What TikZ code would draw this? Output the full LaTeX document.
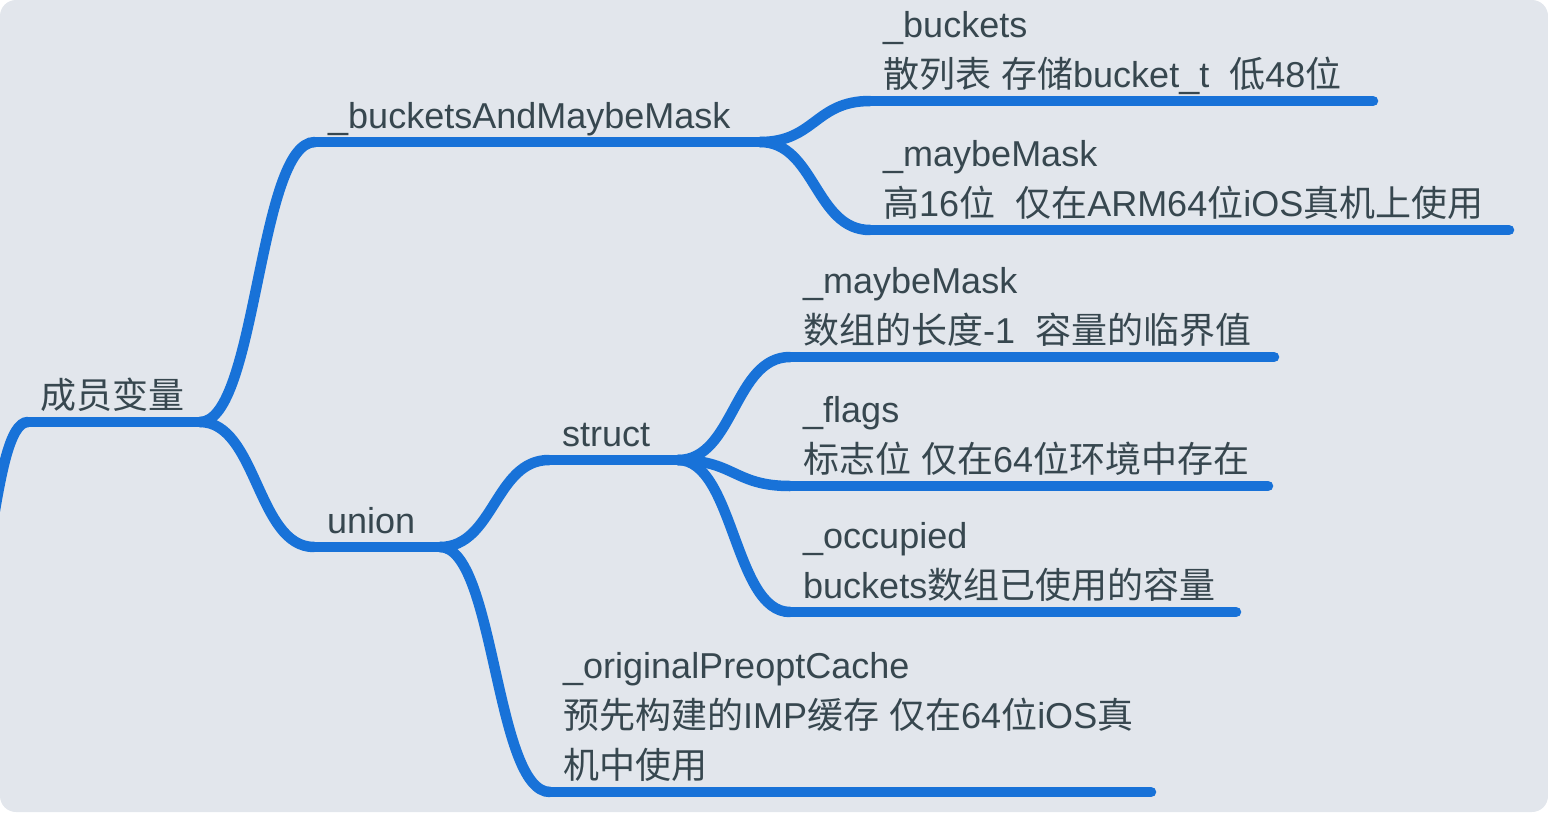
\documentclass[tikz,border=0pt]{standalone}
\usepackage{fontspec}
\setmainfont{Liberation Sans}
\newfontfamily\zh{Noto Sans CJK SC}
\usetikzlibrary{calc}
\definecolor{bg}{HTML}{E2E6EC}
\definecolor{mblue}{HTML}{1872D8}
\definecolor{ink}{HTML}{37474F}
\tikzset{
  topic/.style={anchor=base west, inner sep=0pt, align=left, text=ink,
    font=\fontsize{36}{50}\selectfont},
  branch/.style={draw=mblue, line width=10.5pt, line cap=round},
}
\begin{document}
\begin{tikzpicture}[x=1pt, y=-1pt]
        \useasboundingbox (0,0) rectangle (1548,812);
        \fill[bg, rounded corners=16pt] (0,0) rectangle (1548,812);
        \coordinate (in) at (-45,640);
        \coordinate (r-s) at (28,422);
        \coordinate (r-e) at (200,422);
        \coordinate (bm-s) at (315,142);
        \coordinate (bm-e) at (760,142);
        \coordinate (bk-s) at (870,101);
        \coordinate (bk-e) at (1373,101);
        \coordinate (m1-s) at (870,230);
        \coordinate (m1-e) at (1509,230);
        \coordinate (un-s) at (314,547);
        \coordinate (un-e) at (440,547);
        \coordinate (st-s) at (549,460);
        \coordinate (st-e) at (678,460);
        \coordinate (m2-s) at (790,357);
        \coordinate (m2-e) at (1274,357);
        \coordinate (fl-s) at (790,486);
        \coordinate (fl-e) at (1268,486);
        \coordinate (oc-s) at (790,612);
        \coordinate (oc-e) at (1236,612);
        \coordinate (op-s) at (550,792);
        \coordinate (op-e) at (1151,792);
        \foreach \t in {r,bm,bk,m1,un,st,m2,fl,oc,op}
          \draw[branch] (\t-s) -- (\t-e);
        \draw[branch] (in) .. controls +(37,0) and +(-37,0) .. (r-s);
        \draw[branch] (r-e) .. controls +(57,0) and +(-57,0) .. (bm-s);
        \draw[branch] (r-e) .. controls +(57,0) and +(-57,0) .. (un-s);
        \draw[branch] (bm-e) .. controls +(55,0) and +(-55,0) .. (bk-s);
        \draw[branch] (bm-e) .. controls +(55,0) and +(-55,0) .. (m1-s);
        \draw[branch] (un-e) .. controls +(54,0) and +(-54,0) .. (st-s);
        \draw[branch] (un-e) .. controls +(55,0) and +(-55,0) .. (op-s);
        \draw[branch] (st-e) .. controls +(56,0) and +(-56,0) .. (m2-s);
        \draw[branch] (st-e) .. controls +(56,0) and +(-56,0) .. (fl-s);
        \draw[branch] (st-e) .. controls +(56,0) and +(-56,0) .. (oc-s);
        % texts sit on their branch, base = last line
        \node[topic] (root) at ($(r-s)+(12,-14)$) {{\zh 成员变量}};
        \node[topic] (bm) at ($(bm-s)+(13,-14)$) {\_bucketsAndMaybeMask};
        \node[topic] (bk) at ($(bk-s)+(13,-14)$) {\_buckets\\{\zh 散列表} {\zh 存储}bucket\_t\ \ {\zh 低}48{\zh 位}};
        \node[topic] (m1) at ($(m1-s)+(13,-14)$) {\_maybeMask\\{\zh 高}16{\zh 位}\ \ {\zh 仅在}ARM64{\zh 位}iOS{\zh 真机上使用}};
        \node[topic] (un) at ($(un-s)+(13,-14)$) {union};
        \node[topic] (st) at ($(st-s)+(13,-14)$) {struct};
        \node[topic] (m2) at ($(m2-s)+(13,-14)$) {\_maybeMask\\{\zh 数组的长度}-1\ \ {\zh 容量的临界值}};
        \node[topic] (fl) at ($(fl-s)+(13,-14)$) {\_flags\\{\zh 标志位} {\zh 仅在}64{\zh 位环境中存在}};
        \node[topic] (oc) at ($(oc-s)+(13,-14)$) {\_occupied\\buckets{\zh 数组已使用的容量}};
        \node[topic] (op) at ($(op-s)+(13,-14)$) {\_originalPreoptCache\\{\zh 预先构建的}IMP{\zh 缓存} {\zh 仅在}64{\zh 位}iOS{\zh 真}\\{\zh 机中使用}};
\end{tikzpicture}
\end{document}
